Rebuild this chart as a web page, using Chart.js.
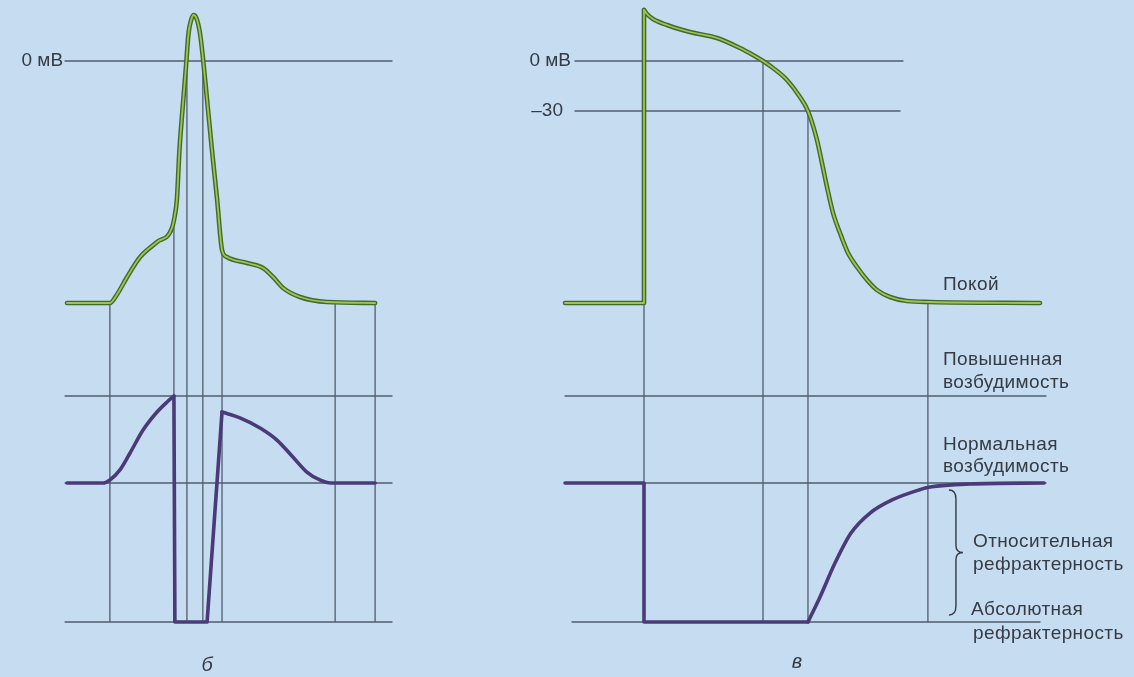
<!DOCTYPE html>
<html>
<head>
<meta charset="utf-8">
<script src="https://cdn.jsdelivr.net/npm/chart.js@4.4.1/dist/chart.umd.min.js"></script>
<style>
  html, body { margin: 0; padding: 0; background: #c5dcf1; }
  #wrap { width: 1134px; height: 677px; position: relative; }
</style>
</head>
<body>
<div id="wrap"><canvas id="chart" width="1134" height="677"></canvas></div>
<script>
// ---- panel б: nerve fibre, time in ms ----
const spikeT  = [0, 1.32, 1.51, 1.85, 2.25, 2.77, 3.23, 3.32, 3.38, 3.46, 3.54, 3.66, 3.74, 3.82, 3.89, 3.98, 4.09, 4.18, 4.31, 4.46, 4.62, 4.77, 4.92, 5.54, 6.03, 6.34, 6.65, 7.17, 8.00, 9.48];
const spikeMV = [-145.2, -145.2, -141.0, -129.6, -117.6, -108.6, -100.2, -92.4, -83.4, -53.4, -32.4, -3.6, 16.8, 24.6, 27.6, 25.8, 16.8, 2.4, -23.4, -53.4, -83.4, -113.4, -117.6, -121.2, -124.2, -129.6, -136.2, -141.6, -144.6, -145.2];

// excitability, % of normal
const nerveRiseT   = [0, 1.11, 1.32, 1.63, 1.94, 2.34, 2.77, 3.08, 3.29];
const nerveRiseExc = [100, 100, 102.2, 109.4, 121.6, 138.1, 151.1, 158.3, 162.6];
const nerveRefrT   = [3.29, 3.32, 4.31, 4.77];
const nerveRefrExc = [162.6, 0, 0, 151.1];
const nerveRecT    = [4.77, 4.92, 5.32, 5.94, 6.46, 6.95, 7.38, 7.78, 8.12, 9.48];
const nerveRecExc  = [151.1, 150.0, 146.8, 139.6, 130.9, 118.7, 107.9, 102.2, 100, 100];

const nerveSpanT = [-0.06, 10.0];
const nerveMarkT  = [1.32, 3.29, 3.69, 4.18, 4.77, 8.25, 9.48];
const nerveMarkMV = [-145.2, -99, 0, 0, -113.4, -145.2, -145.2];

// ---- panel в: cardiac muscle, time in ms ----
const upT  = [-92.9, 0, 0];
const upMV = [-145.2, -145.2, 30.6];
const plateauT  = [0, 3.5, 10.6, 27.1, 54.1, 85.9, 112.9, 128.2, 140, 151.8, 168.2, 183.5, 192.9, 203.5, 209.4, 215.3, 222.4, 230.6, 240, 250.6, 262.4, 274.1, 289.4, 309.4, 336.5, 465.9];
const plateauMV = [30.6, 28.2, 25.2, 21.6, 17.4, 13.8, 7.8, 3.6, 0, -4.2, -11.4, -21.6, -30, -47.4, -61.2, -75.6, -91.2, -103.2, -115.2, -123.6, -131.4, -137.4, -141.6, -144, -144.6, -145.2];

const heartStepT   = [-92.9, 0, 0, 192.9];
const heartStepExc = [100, 100, 0, 0];
const heartRecT    = [192.9, 207.1, 224.7, 243.5, 265.9, 291.8, 323.5, 336.5, 383.5, 470.6];
const heartRecExc  = [0, 18.0, 42.4, 64.0, 78.4, 87.8, 95.0, 97.1, 99.3, 100];

const heartMarkT  = [0, 140, 192.9, 334];
const heartMarkMV = [-145.2, 0, -30, -145.2];

// reference levels
const excLevels = [162.6, 100, 0];
const mvLevels  = [0, -30];

const W = 1134, H = 677;
const lineColor = '#525d6c';
const textColor = '#363b44';

// axis calibration: value v1 at pixel p1, v2 at pixel p2
function spanX(v1, p1, v2, p2) {
  const k = (p2 - p1) / (v2 - v1);
  const min = v1 - p1 / k;
  return { min: min, max: min + W / k };
}
function spanY(v1, p1, v2, p2) {
  const k = (p2 - p1) / (v1 - v2);
  const max = v1 + p1 / k;
  return { min: max - H / k, max: max };
}

function pts(xs, ys) {
  return xs.map((x, i) => ({ x: x, y: ys[i] }));
}

const datasets = [];
function add(xs, ys, xAxis, yAxis, color, width, smooth, order) {
  datasets.push({
    data: pts(xs, ys),
    xAxisID: xAxis,
    yAxisID: yAxis,
    borderColor: color,
    borderWidth: width,
    pointRadius: 0,
    tension: 0,
    cubicInterpolationMode: smooth ? 'monotone' : 'default',
    borderCapStyle: 'round',
    borderJoinStyle: 'round',
    fill: false,
    clip: false,
    order: order
  });
}
function green(xs, ys, xAxis, smooth) {
  add(xs, ys, xAxis, 'yMV', '#3f6a32', 4.6, smooth, 2);
  add(xs, ys, xAxis, 'yMV', '#a3c449', 1.8, smooth, 1);
}
function purple(xs, ys, xAxis, smooth) {
  add(xs, ys, xAxis, 'yExc', '#4a3a78', 3.6, smooth, 1);
}

// reference lines
add(nerveSpanT, [0, 0], 'xB', 'yMV', lineColor, 1.3, false, 10);
excLevels.forEach(lv => add(nerveSpanT, [lv, lv], 'xB', 'yExc', lineColor, 1.3, false, 10));
add([-81.2, 304.7], [mvLevels[0], mvLevels[0]], 'xV', 'yMV', lineColor, 1.3, false, 10);
add([-81.2, 301.2], [mvLevels[1], mvLevels[1]], 'xV', 'yMV', lineColor, 1.3, false, 10);
add([-92.9, 472.9], [excLevels[0], excLevels[0]], 'xV', 'yExc', lineColor, 1.3, false, 10);
add([-92.9, 472.9], [excLevels[1], excLevels[1]], 'xV', 'yExc', lineColor, 1.3, false, 10);
add([-84.7, 465.9], [excLevels[2], excLevels[2]], 'xV', 'yExc', lineColor, 1.3, false, 10);

// curves
green(spikeT, spikeMV, 'xB', true);
purple(nerveRiseT, nerveRiseExc, 'xB', true);
purple(nerveRefrT, nerveRefrExc, 'xB', false);
purple(nerveRecT, nerveRecExc, 'xB', true);
green(upT, upMV, 'xV', false);
green(plateauT, plateauMV, 'xV', true);
purple(heartStepT, heartStepExc, 'xV', false);
purple(heartRecT, heartRecExc, 'xV', true);

// vertical drop lines from the potential curve down to zero excitability
const dropLines = {
  id: 'dropLines',
  beforeDatasetsDraw(chart) {
    const s = chart.scales, ctx = chart.ctx;
    ctx.save();
    ctx.strokeStyle = lineColor;
    ctx.lineWidth = 1.3;
    const draw = (ts, mvs, xs) => ts.forEach((t, i) => {
      const x = s[xs].getPixelForValue(t);
      ctx.beginPath();
      ctx.moveTo(x, s.yMV.getPixelForValue(mvs[i]));
      ctx.lineTo(x, s.yExc.getPixelForValue(0));
      ctx.stroke();
    });
    draw(nerveMarkT, nerveMarkMV, 'xB');
    draw(heartMarkT, heartMarkMV, 'xV');
    ctx.restore();
  }
};

// text labels and brace
const labels = {
  id: 'labels',
  afterDatasetsDraw(chart) {
    const s = chart.scales, ctx = chart.ctx;
    const xB = v => s.xB.getPixelForValue(v);
    const xV = v => s.xV.getPixelForValue(v);
    const mv = v => s.yMV.getPixelForValue(v);
    const ex = v => s.yExc.getPixelForValue(v);
    ctx.save();
    ctx.fillStyle = textColor;
    ctx.textBaseline = 'middle';
    ctx.font = '19px "Liberation Sans", Arial, sans-serif';

    // tick-like labels on the potential axis
    ctx.textAlign = 'right';
    ctx.fillText('0 мВ', xB(nerveSpanT[0]) - 2, mv(0));
    ctx.fillText('0 мВ', xV(-81.2) - 4, mv(0));
    ctx.fillText('–30', xV(-81.2) - 12, mv(-30));

    ctx.textAlign = 'left';
    ctx.letterSpacing = '0.4px';
    const lx = xV(351.8);
    ctx.fillText('Покой', lx, mv(-145.2) - 18);
    ctx.fillText('Повышенная', lx, ex(excLevels[0]) - 36);
    ctx.fillText('возбудимость', lx, ex(excLevels[0]) - 13);
    ctx.fillText('Нормальная', lx, ex(100) - 38);
    ctx.fillText('возбудимость', lx, ex(100) - 16);
    const rx = xV(387);
    ctx.fillText('Относительная', rx, ex(50) - 11);
    ctx.fillText('рефрактерность', rx, ex(50) + 12);
    ctx.fillText('Абсолютная', xV(384.7), ex(0) - 12);
    ctx.fillText('рефрактерность', rx, ex(0) + 12);

    ctx.textAlign = 'center';
    ctx.letterSpacing = '0px';
    ctx.font = 'italic 20px "Liberation Sans", Arial, sans-serif';
    ctx.fillText('б', xB(4.31), 665);
    ctx.fillText('в', xV(180), 662);

    // curly brace for relative refractoriness
    const bx = xV(367), top = ex(95), bot = ex(5), mid = ex(50);
    ctx.strokeStyle = textColor;
    ctx.lineWidth = 1.4;
    ctx.beginPath();
    ctx.moveTo(bx - 7, top);
    ctx.quadraticCurveTo(bx, top, bx, top + 9);
    ctx.lineTo(bx, mid - 7);
    ctx.quadraticCurveTo(bx, mid, bx + 7, mid);
    ctx.quadraticCurveTo(bx, mid, bx, mid + 7);
    ctx.lineTo(bx, bot - 9);
    ctx.quadraticCurveTo(bx, bot, bx - 7, bot);
    ctx.stroke();
    ctx.restore();
  }
};

const hidden = extra => Object.assign({ type: 'linear', display: false, bounds: 'data', grace: 0 }, extra);

new Chart(document.getElementById('chart'), {
  type: 'line',
  data: { datasets: datasets },
  options: {
    responsive: false,
    animation: false,
    layout: { padding: 0 },
    plugins: { legend: { display: false }, tooltip: { enabled: false } },
    scales: {
      xB: hidden(Object.assign({ axis: 'x', position: 'bottom' }, spanX(0, 67, 10, 392))),
      xV: hidden(Object.assign({ axis: 'x', position: 'bottom' }, spanX(0, 644, 100, 729))),
      yMV: hidden(Object.assign({ axis: 'y', position: 'left' }, spanY(0, 61, -30, 111))),
      yExc: hidden(Object.assign({ axis: 'y', position: 'left' }, spanY(100, 483, 0, 622)))
    }
  },
  plugins: [dropLines, labels]
});
</script>
</body>
</html>
